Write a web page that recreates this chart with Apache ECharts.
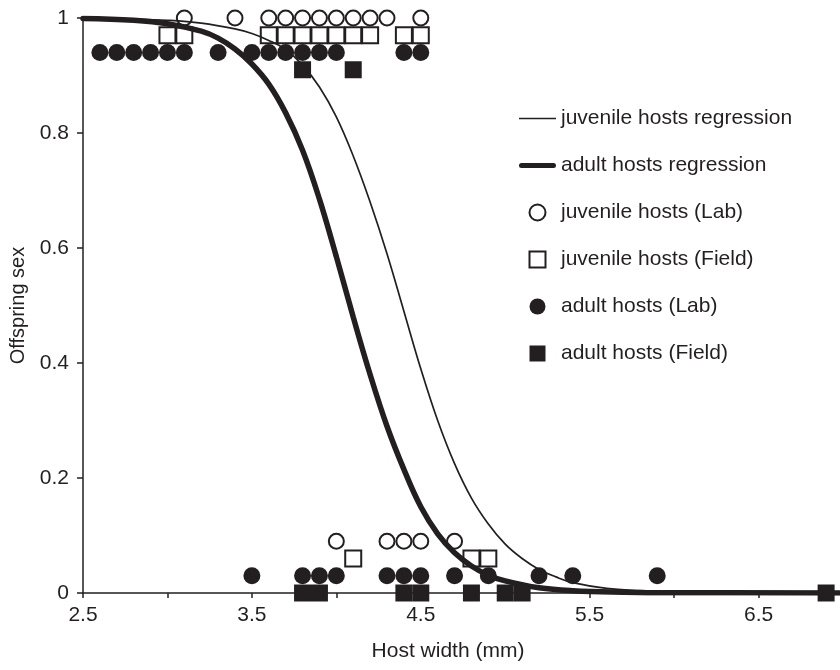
<!DOCTYPE html>
<html>
<head>
<meta charset="utf-8">
<title>Offspring sex vs host width</title>
<script src="https://cdn.jsdelivr.net/npm/echarts@6/dist/echarts.min.js"></script>
<style>
  html, body { margin: 0; padding: 0; background: #fff; }
  #chart { width: 840px; height: 670px; }
</style>
</head>
<body>
<div id="chart"></div>
<script>
// Regression curves: [host width, offspring sex]
const juvenileCurve = [
    [2.5, 0.999], [2.8, 0.998], [3.0, 0.996], [3.2, 0.991], [3.4, 0.981],
    [3.5, 0.973], [3.6, 0.961], [3.7, 0.945], [3.8, 0.918], [3.9, 0.88],
    [4.0, 0.828], [4.1, 0.76], [4.2, 0.68], [4.3, 0.59], [4.4, 0.49],
    [4.5, 0.39], [4.6, 0.3], [4.7, 0.225], [4.8, 0.165], [4.9, 0.12],
    [5.0, 0.085], [5.1, 0.06], [5.2, 0.041], [5.3, 0.028], [5.4, 0.018],
    [5.6, 0.008], [5.8, 0.004], [6.0, 0.002], [6.5, 0.0004], [7.0, 0]
];
const adultCurve = [
    [2.5, 0.999], [2.8, 0.996], [3.0, 0.99], [3.2, 0.977], [3.3, 0.965],
    [3.4, 0.946], [3.5, 0.92], [3.6, 0.885], [3.7, 0.835], [3.8, 0.77],
    [3.9, 0.685], [4.0, 0.585], [4.1, 0.48], [4.2, 0.38], [4.3, 0.29],
    [4.4, 0.215], [4.5, 0.15], [4.6, 0.103], [4.7, 0.07], [4.8, 0.047],
    [4.9, 0.031], [5.0, 0.021], [5.2, 0.009], [5.4, 0.004], [5.7, 0.0015],
    [6.0, 0.0005], [7.0, 0]
];

// Observations: [host width, offspring sex (plotted level)]
const juvenileLab = [
    [3.1, 1], [3.4, 1], [3.6, 1], [3.7, 1], [3.8, 1], [3.9, 1], [4.0, 1],
    [4.1, 1], [4.2, 1], [4.3, 1], [4.5, 1],
    [4.0, 0.09], [4.3, 0.09], [4.4, 0.09], [4.5, 0.09], [4.7, 0.09]
];
const juvenileField = [
    [3.0, 0.97], [3.1, 0.97], [3.6, 0.97], [3.7, 0.97], [3.8, 0.97], [3.9, 0.97],
    [4.0, 0.97], [4.1, 0.97], [4.2, 0.97], [4.4, 0.97], [4.5, 0.97],
    [4.1, 0.06], [4.8, 0.06], [4.9, 0.06]
];
const adultLab = [
    [2.6, 0.94], [2.7, 0.94], [2.8, 0.94], [2.9, 0.94], [3.0, 0.94], [3.1, 0.94],
    [3.3, 0.94], [3.5, 0.94], [3.6, 0.94], [3.7, 0.94], [3.8, 0.94], [3.9, 0.94],
    [4.0, 0.94], [4.4, 0.94], [4.5, 0.94],
    [3.5, 0.03], [3.8, 0.03], [3.9, 0.03], [4.0, 0.03], [4.3, 0.03], [4.4, 0.03],
    [4.5, 0.03], [4.7, 0.03], [4.9, 0.03], [5.2, 0.03], [5.4, 0.03], [5.9, 0.03]
];
const adultField = [
    [3.8, 0.91], [4.1, 0.91],
    [3.8, 0], [3.9, 0], [4.4, 0], [4.5, 0], [4.8, 0], [5.0, 0], [5.1, 0], [6.9, 0]
];

const seriesNames = [
    'juvenile hosts regression',
    'adult hosts regression',
    'juvenile hosts (Lab)',
    'juvenile hosts (Field)',
    'adult hosts (Lab)',
    'adult hosts (Field)'
];

const ink = '#231f20';
const fontFamily = '"Liberation Sans", Arial, Helvetica, sans-serif';
const squareIcon = 'path://M0,0L10,0L10,10L0,10Z';

const chart = echarts.init(document.getElementById('chart'));

chart.setOption({
    animation: false,
    backgroundColor: '#fff',
    textStyle: { fontFamily: fontFamily, color: ink },
    grid: {
        left: 83,
        top: 18,
        bottom: 77,
        width: 760,
        containLabel: false,
        outerBoundsMode: 'none'
    },
    legend: {
        orient: 'vertical',
        left: 514,
        top: 103,
        itemWidth: 37,
        itemHeight: 16,
        itemGap: 26,
        symbolKeepAspect: true,
        selectedMode: false,
        textStyle: { fontSize: 21, color: ink, lineHeight: 20, fontFamily: fontFamily },
        data: [
            { name: seriesNames[0], icon: 'path://M0,0L41,0L41,1.6L0,1.6Z', itemStyle: { color: ink, borderWidth: 0 } },
            { name: seriesNames[1], icon: 'path://M3,0L41,0A3,3,0,0,1,41,6L3,6A3,3,0,0,1,3,0Z', itemStyle: { color: ink, borderWidth: 0 } },
            { name: seriesNames[2], icon: 'circle', itemStyle: { color: '#fff', borderColor: ink, borderWidth: 2 } },
            { name: seriesNames[3], icon: squareIcon, itemStyle: { color: '#fff', borderColor: ink, borderWidth: 2 } },
            { name: seriesNames[4], icon: 'circle', itemStyle: { color: ink, borderWidth: 0 } },
            { name: seriesNames[5], icon: squareIcon, itemStyle: { color: ink, borderWidth: 0 } }
        ]
    },
    xAxis: {
        type: 'value',
        min: 2.5,
        max: 7.0,
        interval: 0.5,
        name: 'Host width (mm)',
        nameLocation: 'middle',
        nameGap: 48,
        nameTextStyle: { fontSize: 21, color: ink, padding: [0, 30, 0, 0] },
        axisLine: { show: true, onZero: false, lineStyle: { color: ink, width: 1.5 } },
        axisTick: { show: true, length: 5, lineStyle: { color: ink, width: 1.5 } },
        axisLabel: {
            fontSize: 21,
            color: ink,
            margin: 12,
            showMaxLabel: false,
            formatter: function (v) {
                const k = Math.round((v - 2.5) * 10);
                return k % 10 === 0 ? v.toFixed(1) : '';
            }
        },
        splitLine: { show: false }
    },
    yAxis: {
        type: 'value',
        min: 0,
        max: 1,
        interval: 0.2,
        name: 'Offspring sex',
        nameLocation: 'middle',
        nameGap: 50,
        nameTextStyle: { fontSize: 20, color: ink },
        axisLine: { show: true, lineStyle: { color: ink, width: 1.5 } },
        axisTick: { show: true, length: 6, lineStyle: { color: ink, width: 1.5 } },
        axisLabel: { fontSize: 21, color: ink, margin: 14 },
        splitLine: { show: false }
    },
    series: [
        {
            name: seriesNames[2],
            type: 'scatter',
            data: juvenileLab,
            symbol: 'circle',
            symbolSize: 15,
            itemStyle: { color: 'transparent', borderColor: ink, borderWidth: 2, opacity: 1 },
            clip: false,
            z: 3
        },
        {
            name: seriesNames[3],
            type: 'scatter',
            data: juvenileField,
            symbol: 'rect',
            symbolSize: 16,
            itemStyle: { color: 'transparent', borderColor: ink, borderWidth: 2, opacity: 1 },
            clip: false,
            z: 3
        },
        {
            name: seriesNames[4],
            type: 'scatter',
            data: adultLab,
            symbol: 'circle',
            symbolSize: 17,
            itemStyle: { color: ink, opacity: 1 },
            clip: false,
            z: 3
        },
        {
            name: seriesNames[5],
            type: 'scatter',
            data: adultField,
            symbol: 'rect',
            symbolSize: 17,
            itemStyle: { color: ink, opacity: 1 },
            clip: false,
            z: 3
        },
        {
            name: seriesNames[0],
            type: 'line',
            data: juvenileCurve,
            smooth: 0.4,
            showSymbol: false,
            symbol: 'none',
            color: ink,
            lineStyle: { color: ink, width: 1.7 },
            z: 4
        },
        {
            name: seriesNames[1],
            type: 'line',
            data: adultCurve,
            smooth: 0.4,
            showSymbol: false,
            symbol: 'none',
            color: ink,
            lineStyle: { color: ink, width: 5.5, cap: 'round' },
            z: 4
        }
    ]
});

window.addEventListener('resize', () => {
    chart.resize();
});
</script>
</body>
</html>
